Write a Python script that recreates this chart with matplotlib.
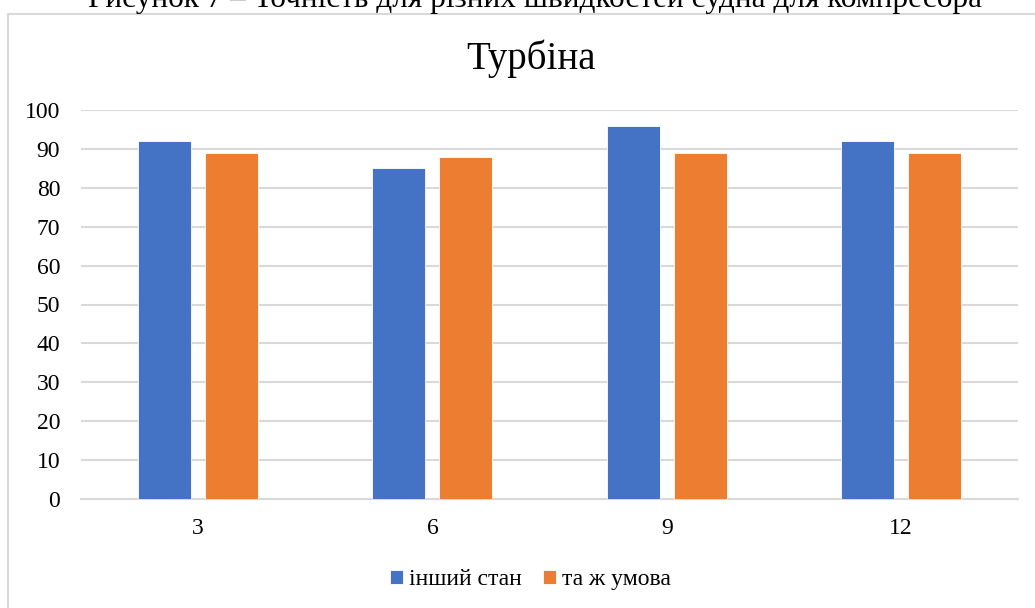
import numpy as np
import matplotlib.pyplot as plt
from matplotlib.patches import Rectangle

# Data
speeds = ['3', '6', '9', '12']
other_state = [92, 85, 96, 92]
same_condition = [89, 88, 89, 89]
series_names = ['інший стан', 'та ж умова']
colors = ['#4472C4', '#ED7D31']

plt.rcParams['font.family'] = ['Liberation Serif', 'DejaVu Serif']

fig = plt.figure(figsize=(10.35, 6.08), dpi=100)

# chart frame (right and bottom edges run off the page)
fig.patches.append(Rectangle((8 / 1035, -0.1), 1.2, (608 - 14) / 608 + 0.1,
                             transform=fig.transFigure, fill=False,
                             edgecolor='#d9d9d9', linewidth=1.5))

# caption line above the chart, clipped by the page edge
fig.text(535 / 1035, 1 - 7 / 608, 'Рисунок 7 – Точність для різних швидкостей судна для компресора',
         ha='center', va='baseline', fontsize=22.5, color='black')

ax = fig.add_axes([81 / 1035, (608 - 499) / 608, (1018 - 81) / 1035, (499 - 110) / 608])

x = np.arange(len(speeds))
w = 0.226
off = 0.143
ax.bar(x - off, other_state, w, color=colors[0], edgecolor='white', linewidth=0.6,
       label=series_names[0], zorder=3)
ax.bar(x + off, same_condition, w, color=colors[1], edgecolor='white', linewidth=0.6,
       label=series_names[1], zorder=3)

ax.set_xlim(-0.5, len(speeds) - 0.5)
ax.set_ylim(0, 100)
ax.set_yticks(np.arange(0, 101, 10))
ax.set_xticks(x)
ax.set_xticklabels(speeds)
ax.yaxis.grid(True, color='#d9d9d9', linewidth=1.5, zorder=0)
ax.set_axisbelow(True)
for s in ['top', 'right', 'left']:
    ax.spines[s].set_visible(False)
ax.spines['bottom'].set_color('#d9d9d9')
ax.spines['bottom'].set_linewidth(1.5)
ax.tick_params(axis='both', length=0, labelsize=17, colors='black')
ax.tick_params(axis='y', pad=15)
ax.tick_params(axis='x', pad=14)

# title is centred on the chart frame, not on the plot area
fig.text(531 / 1035, 1 - 69 / 608, 'Турбіна', ha='center', va='baseline', fontsize=28)

ax.legend(loc='center', bbox_to_anchor=(0.48, -0.208), ncol=2, frameon=False,
          fontsize=17, handlelength=0.55, handleheight=0.55, handletextpad=0.25,
          columnspacing=0.9)

fig.savefig('out.png', dpi=100)
